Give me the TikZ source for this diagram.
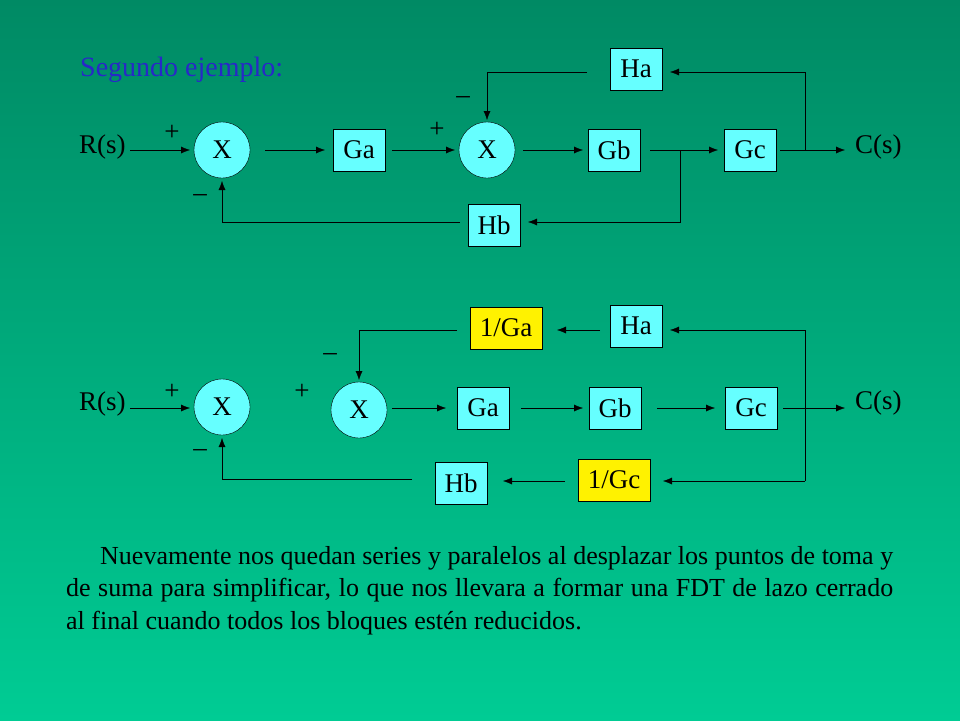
\documentclass[tikz,border=0pt]{standalone}
\usepackage{fontspec}
\setmainfont{Liberation Serif}
\usetikzlibrary{arrows.meta}
\definecolor{bgtop}{RGB}{0,138,100}
\definecolor{bgbot}{RGB}{0,204,148}
\definecolor{boxc}{RGB}{102,255,255}
\definecolor{titc}{RGB}{40,40,200}
\begin{document}
\begin{tikzpicture}[x=1pt,y=-1pt,
  every node/.style={font=\fontsize{27}{30}\selectfont},
  blk/.style={draw,fill=boxc,minimum width=52pt,minimum height=42pt,inner sep=0pt},
  yblk/.style={blk,fill=yellow,minimum width=72pt},
  sumc/.style={draw,circle,fill=boxc,minimum size=56pt,inner sep=0pt},
  arr/.style={-{Latex[length=9pt,width=7pt]}},
  lbl/.style={inner sep=0pt}]
\shade[top color=bgtop,bottom color=bgbot] (0,0) rectangle (960,720);
\useasboundingbox (0,0) rectangle (960,720);
\node[lbl,anchor=west,text=titc,font=\fontsize{28}{30}\selectfont] (tit) at (80,70) {Segundo ejemplo:};
% diagram 1
\node[lbl,anchor=west] (r1) at (79,147) {R(s)};
\node[sumc] (s1) at (222,150) {X};
\node[blk] (ga1) at (359,150) {Ga};
\node[sumc] (s2) at (487,150) {X};
\node[blk] (gb1) at (614,150) {Gb};
\node[blk] (gc1) at (750,150) {Gc};
\node[blk] (ha1) at (636,69) {Ha};
\node[blk] (hb1) at (494,225) {Hb};
\node[lbl,anchor=west] (c1) at (855,147) {C(s)};
\node[lbl] (p1) at (172,133) {+};
\node[lbl] (p2) at (437,130) {+};
\node[lbl] (m1) at (463,100) {--};
\node[lbl] (m2) at (200,198) {--};
\coordinate (a1) at (130,150); \coordinate (a2) at (190,150);
\draw[arr] (a1) -- (a2);
\coordinate (b1) at (265,150); \coordinate (b2) at (325,150);
\draw[arr] (b1) -- (b2);
\coordinate (b3) at (392,150); \coordinate (b4) at (455,150);
\draw[arr] (b3) -- (b4);
\coordinate (b5) at (523,150); \coordinate (b6) at (583,150);
\draw[arr] (b5) -- (b6);
\coordinate (b7) at (650,150); \coordinate (b8) at (718,150);
\draw[arr] (b7) -- (b8);
\coordinate (b9) at (780,150); \coordinate (b10) at (845,150);
\draw[arr] (b9) -- (b10);
\coordinate (j1) at (805,150); \coordinate (j1t) at (670,72);
\draw[arr] (j1) |- (j1t);
\coordinate (k1) at (587,72); \coordinate (k2) at (487,120);
\draw[arr] (k1) -| (k2);
\coordinate (j2) at (680,150); \coordinate (j2t) at (528,222);
\draw[arr] (j2) |- (j2t);
\coordinate (h1) at (460,222); \coordinate (h2) at (222,181);
\draw[arr] (h1) -| (h2);
% diagram 2
\node[lbl,anchor=west] (r2) at (79,404) {R(s)};
\node[sumc] (t1) at (222,407) {X};
\node[sumc] (t2) at (359,410) {X};
\node[blk] (ga2) at (483,408) {Ga};
\node[blk] (gb2) at (615,408) {Gb};
\node[blk] (gc2) at (751,408) {Gc};
\node[blk] (ha2) at (636,326) {Ha};
\node[yblk] (iga) at (506,328) {1/Ga};
\node[yblk] (igc) at (614,480) {1/Gc};
\node[blk] (hb2) at (461,483) {Hb};
\node[lbl,anchor=west] (c2) at (855,403) {C(s)};
\node[lbl] (p3) at (172,392) {+};
\node[lbl] (p4) at (302,392) {+};
\node[lbl] (m3) at (330,357) {--};
\node[lbl] (m4) at (200,453) {--};
\coordinate (d1) at (130,408); \coordinate (d2) at (190,408);
\draw[arr] (d1) -- (d2);
\coordinate (d3) at (392,408); \coordinate (d4) at (446,408);
\draw[arr] (d3) -- (d4);
\coordinate (d5) at (521,408); \coordinate (d6) at (583,408);
\draw[arr] (d5) -- (d6);
\coordinate (d7) at (657,408); \coordinate (d8) at (715,408);
\draw[arr] (d7) -- (d8);
\coordinate (d9) at (783,408); \coordinate (d10) at (845,408);
\draw[arr] (d9) -- (d10);
\coordinate (e1) at (805,330); \coordinate (e2) at (670,330);
\draw[arr] (e1) -- (e2);
\coordinate (e3) at (805,481); \coordinate (e4) at (663,481);
\draw (e1) -- (e3); \draw[arr] (e3) -- (e4);
\coordinate (f1) at (600,330); \coordinate (f2) at (557,330);
\draw[arr] (f1) -- (f2);
\coordinate (f3) at (457,330); \coordinate (f4) at (359,380);
\draw[arr] (f3) -| (f4);
\coordinate (g1) at (565,481); \coordinate (g2) at (503,481);
\draw[arr] (g1) -- (g2);
\coordinate (g3) at (412,479); \coordinate (g4) at (222,438);
\draw[arr] (g3) -| (g4);
% text
\node[lbl,anchor=north west,text width=827pt,align=justify,font=\fontsize{26}{32.5}\selectfont] (txt) at (66,546)
{\hspace*{34pt}Nuevamente nos quedan series y paralelos al desplazar los puntos de toma y de suma para simplificar, lo que nos llevara a formar una FDT de lazo cerrado al final cuando todos los bloques estén reducidos.};
\end{tikzpicture}
\end{document}
